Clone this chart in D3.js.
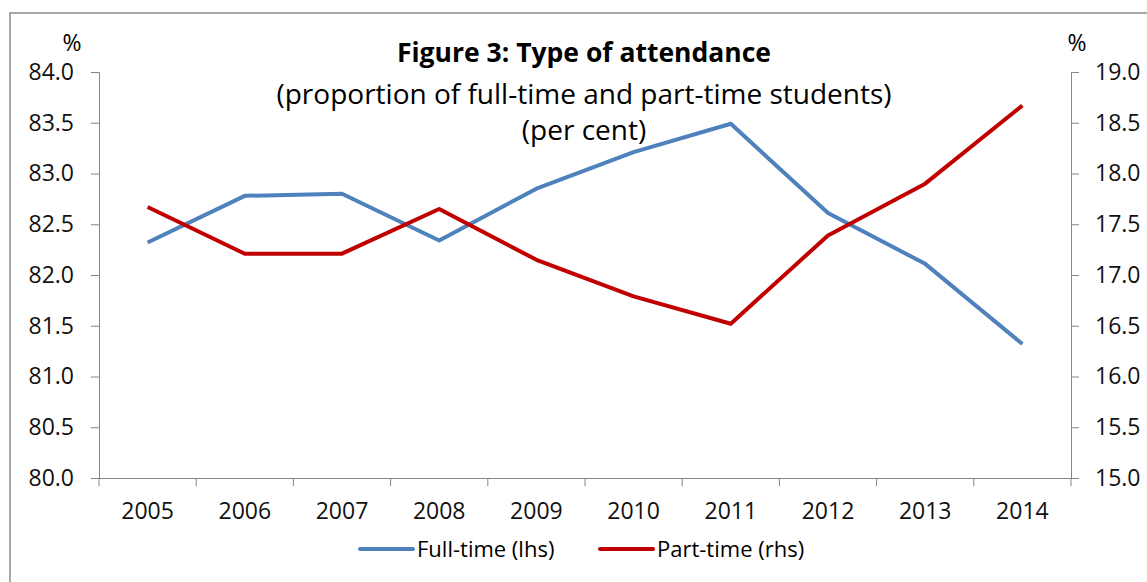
<!DOCTYPE html>
<html><head><meta charset="utf-8">
<script src="https://cdn.jsdelivr.net/npm/d3@7"></script>
<style>body{margin:0;background:#fff;}svg{display:block;font-family:"Open Sans",sans-serif;}</style>
</head><body><svg id="c" width="1147" height="582"></svg>
<script>
const years = ["2005","2006","2007","2008","2009","2010","2011","2012","2013","2014"];
const fullTime = [82.32,82.78,82.80,82.34,82.85,83.21,83.49,82.61,82.11,81.32];
const partTime = [17.67,17.21,17.21,17.65,17.15,16.79,16.52,17.39,17.90,18.67];
const leftTicks = [80.0,80.5,81.0,81.5,82.0,82.5,83.0,83.5,84.0];
const rightTicks = [15.0,15.5,16.0,16.5,17.0,17.5,18.0,18.5,19.0];

const svg = d3.select("#c");
const L = 99, R = 1071, T = 72, B = 478;
const gray = "#868686";
const FS = "23px";

svg.append("rect").attr("x",10).attr("y",13).attr("width",1160).attr("height",600)
  .attr("fill","none").attr("stroke","#8c8c8c").attr("stroke-width",1.5);

const x = d3.scaleBand().domain(years).range([L,R]);
const yL = d3.scaleLinear().domain([80,84]).range([B,T]);
const yR = d3.scaleLinear().domain([15,19]).range([B,T]);

function style(g){
  g.attr("font-family",null).attr("font-size",FS);
  g.selectAll("path,line").attr("stroke",gray).attr("stroke-width",1);
  g.selectAll("text").attr("fill","#111");
}
svg.append("g").attr("transform",`translate(${L},0)`)
  .call(d3.axisLeft(yL).tickValues(leftTicks).tickFormat(d3.format(".1f")).tickSizeOuter(0).tickSize(8).tickPadding(17))
  .call(style);
svg.append("g").attr("transform",`translate(${R},0)`)
  .call(d3.axisRight(yR).tickValues(rightTicks).tickFormat(d3.format(".1f")).tickSizeOuter(0).tickSize(8).tickPadding(16))
  .call(style);
const xa = svg.append("g").attr("transform",`translate(0,${B})`)
  .call(d3.axisBottom(x).tickSize(0).tickPadding(33))
  .call(style);
xa.selectAll("text").attr("dy","0.35em");
svg.append("g").selectAll("line").data(years.concat(["end"])).join("line")
  .attr("x1",(d,i)=> i<years.length ? x(d) : R).attr("x2",(d,i)=> i<years.length ? x(d) : R)
  .attr("y1",B).attr("y2",B+8).attr("stroke",gray);

const cx = d => x(d)+x.bandwidth()/2;
const lineL = d3.line().x((d,i)=>cx(years[i])).y(d=>yL(d));
const lineR = d3.line().x((d,i)=>cx(years[i])).y(d=>yR(d));
svg.append("path").datum(fullTime).attr("d",lineL).attr("fill","none")
  .attr("stroke","#4F81BD").attr("stroke-width",4).attr("stroke-linejoin","round");
svg.append("path").datum(partTime).attr("d",lineR).attr("fill","none")
  .attr("stroke","#C00000").attr("stroke-width",4).attr("stroke-linejoin","round");

svg.append("text").attr("x",72).attr("y",43).attr("dy","0.35em").attr("text-anchor","middle").attr("font-size","23px").text("%");
svg.append("text").attr("x",1077).attr("y",43).attr("dy","0.35em").attr("text-anchor","middle").attr("font-size","23px").text("%");

svg.append("text").attr("x",584).attr("y",62).attr("text-anchor","middle").attr("font-size","26.5px").attr("font-weight","bold").text("Figure 3: Type of attendance");
svg.append("text").attr("x",584).attr("y",104).attr("text-anchor","middle").attr("font-size","28px").text("(proportion of full-time and part-time students)");
svg.append("text").attr("x",584).attr("y",140).attr("text-anchor","middle").attr("font-size","28px").text("(per cent)");

const legend = [{n:"Full-time (lhs)",c:"#4F81BD",x:360},{n:"Part-time (rhs)",c:"#C00000",x:600}];
const lg = svg.append("g").selectAll("g").data(legend).join("g");
lg.append("line").attr("x1",d=>d.x).attr("x2",d=>d.x+53).attr("y1",549).attr("y2",549)
  .attr("stroke",d=>d.c).attr("stroke-width",4).attr("stroke-linecap","round");
lg.append("text").attr("x",d=>d.x+57).attr("y",549).attr("dy","0.35em").attr("font-size","22px").text(d=>d.n);
</script></body></html>
